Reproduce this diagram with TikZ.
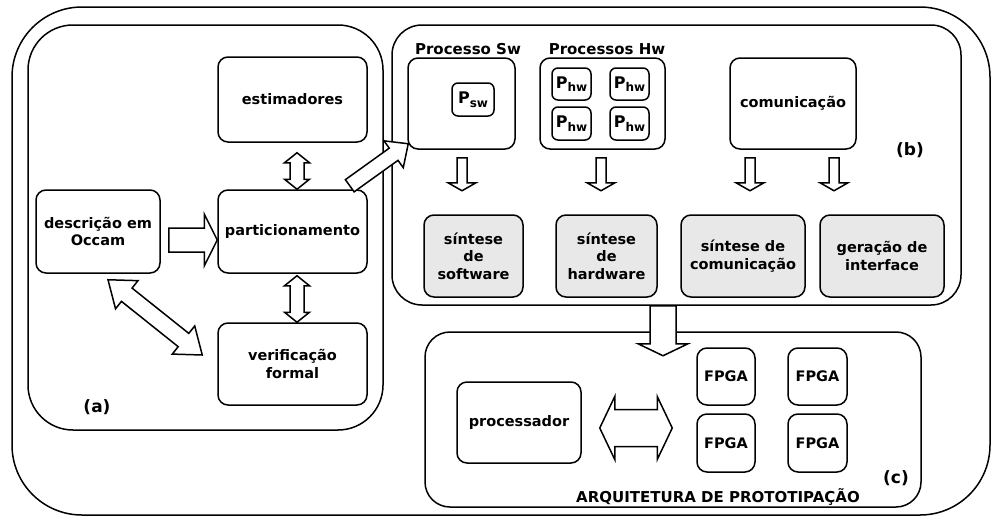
\documentclass[tikz,border=0pt]{standalone}
\usepackage{fontspec}
\setmainfont{DejaVu Sans}
\usetikzlibrary{calc}
\tikzset{
  lw/.style={line width=1.5pt},
  bx/.style 2 args={draw, lw, rounded corners=10pt, align=center, inner sep=0pt,
     minimum width=#1pt, minimum height=#2pt,
     font=\bfseries\fontsize{14.5}{17.5}\selectfont},
  gbx/.style 2 args={bx={#1}{#2}, fill=black!9},
  sbx/.style 2 args={bx={#1}{#2}, rounded corners=6pt},
  frame/.style={draw, lw, inner sep=0pt},
  lbl/.style={font=\bfseries\fontsize{15}{18}\selectfont, inner sep=0pt},
  big/.style={font=\bfseries\fontsize{17}{20}\selectfont, inner sep=0pt},
  fatarr/.style={draw, lw, fill=white, line join=miter},
}
\newcommand\fatone[5]{%
  \coordinate (fA) at (#1); \coordinate (fB) at (#2);
  \coordinate (fH) at ($(fB)!#5!(fA)$);
  \path[fatarr] ($(fA)!#3!90:(fB)$) -- ($(fH)!#3!90:(fB)$) -- ($(fH)!#4!90:(fB)$)
    -- (fB) -- ($(fH)!#4!-90:(fB)$) -- ($(fH)!#3!-90:(fB)$) -- ($(fA)!#3!-90:(fB)$) -- cycle;}
\newcommand\fattwo[5]{%
  \coordinate (fA) at (#1); \coordinate (fB) at (#2);
  \coordinate (fH1) at ($(fA)!#5!(fB)$);
  \coordinate (fH2) at ($(fB)!#5!(fA)$);
  \path[fatarr] (fA) -- ($(fH1)!#4!90:(fB)$) -- ($(fH1)!#3!90:(fB)$) -- ($(fH2)!#3!90:(fB)$)
    -- ($(fH2)!#4!90:(fB)$) -- (fB) -- ($(fH2)!#4!-90:(fB)$) -- ($(fH2)!#3!-90:(fB)$)
    -- ($(fH1)!#3!-90:(fB)$) -- ($(fH1)!#4!-90:(fB)$) -- cycle;}
\newcommand\psub[1]{{\fontsize{16}{16}\selectfont P}\raisebox{-3.5pt}{\fontsize{12}{12}\selectfont #1}}
\begin{document}
\begin{tikzpicture}[x=1pt,y=-1pt]
\useasboundingbox (0,0) rectangle (994,520);
% outer frame
\node[frame, rounded corners=70pt, minimum width=978pt, minimum height=508pt] (outer) at (501,261) {};
% (a)
\node[frame, rounded corners=45pt, minimum width=355pt, minimum height=405pt] (a) at (205.5,227.5) {};
\node[bx={149}{85}] (est) at (292.5,99.5) {estimadores};
\node[bx={149}{83}] (part) at (292.5,231.5) {particionamento};
\node[bx={124}{83}] (occam) at (98,231.5) {descrição em\\Occam};
\node[bx={149}{82}] (verif) at (292.5,364) {verificação\\formal};
\node[big] (labA) at (97,407) {(a)};
% (b)
\node[frame, rounded corners=30pt, minimum width=569pt, minimum height=280pt] (b) at (676.5,165) {};
\node[lbl] (tsw) at (468,49) {Processo Sw};
\node[lbl] (thw) at (607,49) {Processos Hw};
\node[bx={107}{91}] (psw) at (461.5,103.5) {};
\node[sbx={42}{33}] (pswin) at (473,99.5) {\psub{sw}};
\node[bx={125}{91}] (phw) at (602.5,103.5) {};
\node[sbx={39}{32}] (h1) at (571.5,84) {\psub{hw}};
\node[sbx={39}{32}] (h2) at (629.5,84) {\psub{hw}};
\node[sbx={39}{33}] (h3) at (571.5,123.5) {\psub{hw}};
\node[sbx={39}{33}] (h4) at (629.5,123.5) {\psub{hw}};
\node[bx={126}{91}] (com) at (793,103.5) {comunicação};
\node[big] (labB) at (910,150) {(b)};
\node[gbx={99}{82}] (ss) at (473.5,256) {síntese\\de\\software};
\node[gbx={101}{82}] (sh) at (606.5,256) {síntese\\de\\hardware};
\node[gbx={124}{82}] (sc) at (743,256) {síntese de\\comunicação};
\node[gbx={124}{82}] (gi) at (882,256) {geração de\\interface};
% (c)
\node[frame, rounded corners=25pt, minimum width=496pt, minimum height=175pt] (c) at (673,419.5) {};
\node[bx={124}{81}] (proc) at (519,422.5) {processador};
\node[bx={58}{57}] (f1) at (726,376.5) {FPGA};
\node[bx={59}{57}] (f2) at (817.5,376.5) {FPGA};
\node[bx={58}{58}] (f3) at (726,443) {FPGA};
\node[bx={59}{58}] (f4) at (817.5,443) {FPGA};
\node[big] (labC) at (896,478) {(c)};
\node[lbl] (arq) at (718,497) {ARQUITETURA DE PROTOTIPAÇÃO};
% fat arrows
\fattwo{$(est.south)+(4.5,10)$}{$(part.north)+(4.5,0)$}{7pt}{12.5pt}{10pt}
\fattwo{$(part.south)+(4.5,2)$}{$(verif.north)+(4.5,0)$}{7pt}{12.5pt}{10pt}
\fatone{$(occam.east)+(8,8.5)$}{$(part.west)+(0,8.5)$}{12pt}{26pt}{13pt}
\fattwo{$(occam.south)+(10,6)$}{$(verif.west)+(-15,-9)$}{8.5pt}{18pt}{24pt}
\fatone{$(part.north east)+(-18,-3.5)$}{$(psw.south west)+(1,-6)$}{7.5pt}{16.5pt}{18pt}
\fatone{$(psw.south)+(0.5,8)$}{$(psw.south)+(0.5,41)$}{5pt}{14pt}{8pt}
\fatone{$(phw.south)+(-1.5,8)$}{$(phw.south)+(-1.5,41)$}{5pt}{14pt}{8pt}
\fatone{$(com.south)+(-43,8)$}{$(com.south)+(-43,41)$}{5pt}{14pt}{8pt}
\fatone{$(com.south)+(41,8)$}{$(com.south)+(41,41)$}{5pt}{14pt}{8pt}
\fatone{$(b.south)+(-13.5,0)$}{$(b.south)+(-13.5,50)$}{13pt}{25pt}{12pt}
\fattwo{$(proc.east)+(18,5.5)$}{$(f1.west |- proc.east)+(-24,5.5)$}{18.5pt}{31.5pt}{15pt}
\end{tikzpicture}
\end{document}
